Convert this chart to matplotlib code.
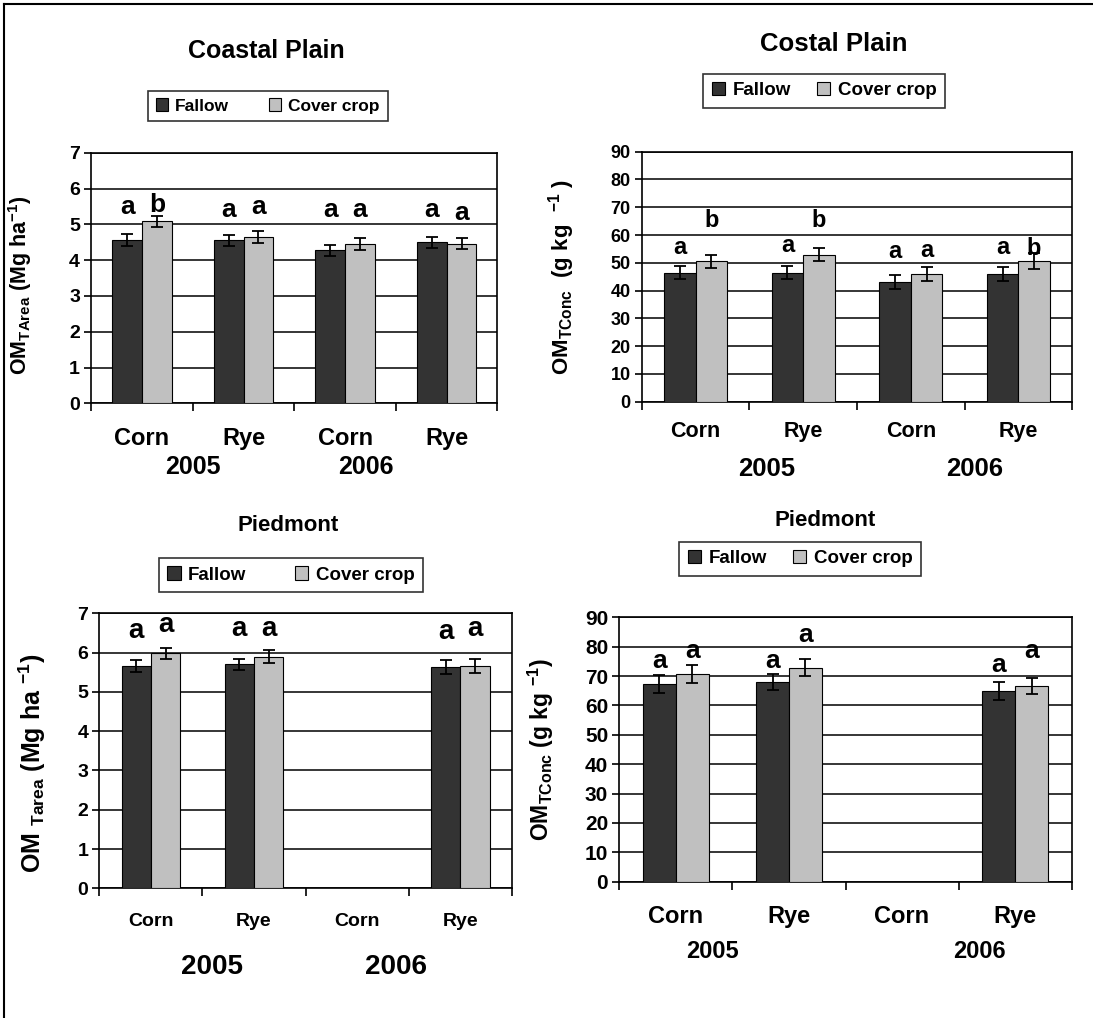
import numpy as np
import matplotlib
matplotlib.use("Agg")
import matplotlib.pyplot as plt
from matplotlib.patches import Patch
from matplotlib.lines import Line2D

plt.rcParams["font.family"] = ["Liberation Sans", "DejaVu Sans"]
plt.rcParams["font.weight"] = "bold"
plt.rcParams["mathtext.fontset"] = "custom"
plt.rcParams["mathtext.rm"] = "Liberation Sans:bold"
plt.rcParams["mathtext.it"] = "Liberation Sans:bold"
plt.rcParams["mathtext.bf"] = "Liberation Sans:bold"
plt.rcParams["mathtext.default"] = "rm"

# ---- data -------------------------------------------------------------
crops = ["Corn", "Rye", "Corn", "Rye"]
years = ["2005", "2006"]
series = ["Fallow", "Cover crop"]

# Coastal Plain, OM per area (Mg ha-1)
cp_area_fallow = [4.55, 4.55, 4.27, 4.50]
cp_area_fallow_se = [0.17, 0.15, 0.16, 0.15]
cp_area_cover = [5.08, 4.64, 4.46, 4.46]
cp_area_cover_se = [0.16, 0.17, 0.17, 0.16]
cp_area_fallow_sig = ["a", "a", "a", "a"]
cp_area_cover_sig = ["b", "a", "a", "a"]

# Coastal Plain, OM concentration (g kg-1)
cp_conc_fallow = [46.4, 46.4, 43.1, 46.0]
cp_conc_fallow_se = [2.3, 2.3, 2.6, 2.4]
cp_conc_cover = [50.6, 52.9, 46.0, 50.6]
cp_conc_cover_se = [2.3, 2.3, 2.4, 2.9]
cp_conc_fallow_sig = ["a", "a", "a", "a"]
cp_conc_cover_sig = ["b", "b", "a", "b"]

# Piedmont, OM per area (Mg ha-1); no corn plots sampled in 2006
pd_area_fallow = [5.66, 5.70, np.nan, 5.63]
pd_area_fallow_se = [0.15, 0.14, np.nan, 0.17]
pd_area_cover = [5.98, 5.90, np.nan, 5.66]
pd_area_cover_se = [0.14, 0.165, np.nan, 0.17]
pd_area_fallow_sig = ["a", "a", "", "a"]
pd_area_cover_sig = ["a", "a", "", "a"]

# Piedmont, OM concentration (g kg-1)
pd_conc_fallow = [67.3, 67.9, np.nan, 64.9]
pd_conc_fallow_se = [3.1, 2.8, np.nan, 3.1]
pd_conc_cover = [70.6, 72.9, np.nan, 66.7]
pd_conc_cover_se = [3.1, 2.8, np.nan, 2.8]
pd_conc_fallow_sig = ["a", "a", "", "a"]
pd_conc_cover_sig = ["a", "a", "", "a"]

# heights (data units) at which the significance letters sit
cp_area_fallow_sig_y = [5.30, 5.20, 5.20, 5.20]
cp_area_cover_sig_y = [5.35, 5.29, 5.20, 5.12]
cp_conc_fallow_sig_y = [53.2, 54.0, 51.6, 53.2]
cp_conc_cover_sig_y = [63.0, 63.0, 52.0, 52.8]
pd_area_fallow_sig_y = [6.36, 6.42, 0, 6.34]
pd_area_cover_sig_y = [6.53, 6.42, 0, 6.42]
pd_conc_fallow_sig_y = [72.9, 72.9, 0, 71.3]
pd_conc_cover_sig_y = [76.0, 81.5, 0, 76.0]

FALLOW_C = "#333333"
COVER_C = "#c0c0c0"

W, H = 1093, 1018
fig = plt.figure(figsize=(W / 100, H / 100), dpi=100)


def px_rect(l, t, r, b):
    return [l / W, 1 - b / H, (r - l) / W, (b - t) / H]


panels = [
    dict(rect=px_rect(91.2, 152.7, 497.4, 403.3), ymax=7, ystep=1,
         f=cp_area_fallow, fe=cp_area_fallow_se, c=cp_area_cover, ce=cp_area_cover_se,
         fs=cp_area_fallow_sig, cs=cp_area_cover_sig,
         fsy=cp_area_fallow_sig_y, csy=cp_area_cover_sig_y,
         barw=0.293, tick_fs=14, letter_fs=19, cat_fs=17, year_fs=18,
         cat_y=-0.139, year_y=-0.254, year_x=[0.50, 2.20],
         ylabel=r"OM$_{TArea}$ (Mg ha$^{-1}$)", ylabel_fs=15.5, ylabel_xy=(-0.14, 0.47),
         title="Coastal Plain", title_xy=(266.7, 50.7), title_fs=18,
         leg_xy=(268, 106), leg_fs=12.5, leg_gap=2.3),
    dict(rect=px_rect(641.8, 151.7, 1072.2, 401.7), ymax=90, ystep=10,
         f=cp_conc_fallow, fe=cp_conc_fallow_se, c=cp_conc_cover, ce=cp_conc_cover_se,
         fs=cp_conc_fallow_sig, cs=cp_conc_cover_sig,
         fsy=cp_conc_fallow_sig_y, csy=cp_conc_cover_sig_y,
         barw=0.292, tick_fs=13, letter_fs=17, cat_fs=15.5, year_fs=18.5,
         cat_y=-0.12, year_y=-0.269, year_x=[0.66, 2.59],
         ylabel=r"OM$_{TConc}$  (g kg  $^{-1}$ )", ylabel_fs=16, ylabel_xy=(-0.15, 0.5),
         title="Costal Plain", title_xy=(833.7, 44), title_fs=18.5,
         leg_xy=(824, 90.8), leg_fs=13.5, leg_gap=1.4),
    dict(rect=px_rect(99.3, 613.3, 512.0, 888.3), ymax=7, ystep=1,
         f=pd_area_fallow, fe=pd_area_fallow_se, c=pd_area_cover, ce=pd_area_cover_se,
         fs=pd_area_fallow_sig, cs=pd_area_cover_sig,
         fsy=pd_area_fallow_sig_y, csy=pd_area_cover_sig_y,
         barw=0.284, tick_fs=14, letter_fs=20, cat_fs=14, year_fs=20,
         cat_y=-0.1215, year_y=-0.285, year_x=[0.59, 2.38],
         ylabel=r"OM $_{Tarea}$ (Mg ha $^{-1}$)", ylabel_fs=18, ylabel_xy=(-0.125, 0.456),
         title="Piedmont", title_xy=(287.8, 525.3), title_fs=16,
         leg_xy=(291, 575), leg_fs=13.5, leg_gap=2.6),
    dict(rect=px_rect(619.3, 617.3, 1071.7, 881.7), ymax=90, ystep=10,
         f=pd_conc_fallow, fe=pd_conc_fallow_se, c=pd_conc_cover, ce=pd_conc_cover_se,
         fs=pd_conc_fallow_sig, cs=pd_conc_cover_sig,
         fsy=pd_conc_fallow_sig_y, csy=pd_conc_cover_sig_y,
         barw=0.29, tick_fs=15, letter_fs=19, cat_fs=17, year_fs=17,
         cat_y=-0.132, year_y=-0.265, year_x=[0.32, 2.68],
         ylabel=r"OM$_{TConc}$ (g kg $^{-1}$)", ylabel_fs=16.5, ylabel_xy=(-0.14, 0.5),
         title="Piedmont", title_xy=(825, 520), title_fs=16,
         leg_xy=(800, 558.7), leg_fs=13.5, leg_gap=1.4),
]

x = np.arange(len(crops))

for p in panels:
    ax = fig.add_axes(p["rect"])
    w = p["barw"]
    ax.bar(x - w / 2, p["f"], w, color=FALLOW_C, edgecolor="black", linewidth=0.8, zorder=3)
    ax.bar(x + w / 2, p["c"], w, color=COVER_C, edgecolor="black", linewidth=0.8, zorder=3)
    ax.errorbar(x - w / 2, p["f"], yerr=p["fe"], fmt="none", ecolor="black",
                elinewidth=1.3, capsize=4.5, capthick=1.3, zorder=4)
    ax.errorbar(x + w / 2, p["c"], yerr=p["ce"], fmt="none", ecolor="black",
                elinewidth=1.3, capsize=4.5, capthick=1.3, zorder=4)
    for i in range(len(crops)):
        if p["fs"][i]:
            ax.text(x[i] - w / 2, p["fsy"][i], p["fs"][i], ha="center", va="baseline",
                    fontsize=p["letter_fs"], fontweight="bold", zorder=5)
        if p["cs"][i]:
            ax.text(x[i] + w / 2, p["csy"][i], p["cs"][i], ha="center", va="baseline",
                    fontsize=p["letter_fs"], fontweight="bold", zorder=5)

    ax.set_xlim(-0.5, len(crops) - 0.5)
    ax.set_ylim(0, p["ymax"])
    ax.set_yticks(np.arange(0, p["ymax"] + p["ystep"] / 2, p["ystep"]))
    ax.yaxis.grid(True, color="black", linewidth=1.1, zorder=0)
    ax.set_axisbelow(True)
    ax.set_xticks(np.arange(-0.5, len(crops), 1.0))
    ax.set_xticklabels([])
    ax.tick_params(axis="x", direction="out", length=6, width=1.2)
    ax.tick_params(axis="y", direction="out", length=5, width=1.2, pad=3,
                   labelsize=p["tick_fs"])
    for lab in ax.get_yticklabels():
        lab.set_fontweight("bold")
    for s in ax.spines.values():
        s.set_linewidth(1.2)
        s.set_color("black")

    for i, name in enumerate(crops):
        ax.text(x[i], p["cat_y"], name, transform=ax.get_xaxis_transform(),
                ha="center", va="center", fontsize=p["cat_fs"], fontweight="bold")
    for xx, yr in zip(p["year_x"], years):
        ax.text(xx, p["year_y"], yr, transform=ax.get_xaxis_transform(),
                ha="center", va="center", fontsize=p["year_fs"], fontweight="bold")

    ax.set_ylabel(p["ylabel"], fontsize=p["ylabel_fs"], fontweight="bold")
    ax.yaxis.set_label_coords(*p["ylabel_xy"])

    tx, ty = p["title_xy"]
    fig.text(tx / W, 1 - ty / H, p["title"], ha="center", va="center",
             fontsize=p["title_fs"], fontweight="bold")

    handles = [Patch(facecolor=FALLOW_C, edgecolor="black", linewidth=0.8),
               Patch(facecolor=COVER_C, edgecolor="black", linewidth=0.8)]
    lx, ly = p["leg_xy"]
    leg = fig.legend(handles, series, loc="center", bbox_to_anchor=(lx / W, 1 - ly / H),
                     ncol=2, frameon=True, fancybox=False,
                     handlelength=0.7, handleheight=0.7, handletextpad=0.4,
                     columnspacing=p["leg_gap"], borderpad=0.45,
                     prop={"weight": "bold", "size": p["leg_fs"]})
    leg.get_frame().set_edgecolor("black")
    leg.get_frame().set_linewidth(1.2)

# outer frame along the top and left edges
fig.add_artist(Line2D([4 / W, 4 / W], [0, 1 - 4 / H], color="black", linewidth=1.5))
fig.add_artist(Line2D([4 / W, 1], [1 - 4 / H, 1 - 4 / H], color="black", linewidth=1.5))

fig.savefig("out.png", dpi=100)
